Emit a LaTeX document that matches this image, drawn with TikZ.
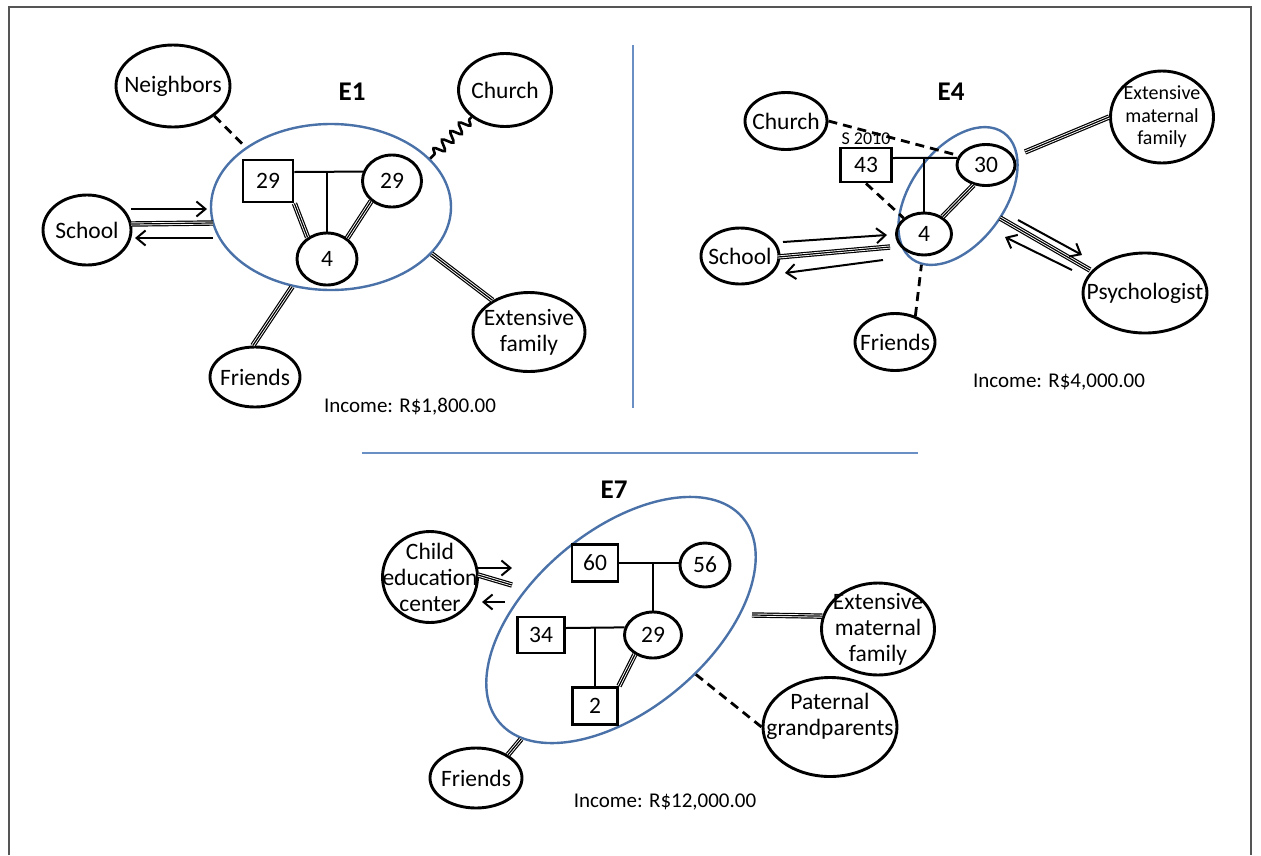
\documentclass[tikz,border=0pt]{standalone}
\usepackage{fontspec}
\setmainfont{Carlito}
\usepackage{xcolor}
\usepackage{tikz}
\usetikzlibrary{arrows.meta,shapes.geometric,decorations.pathmorphing}
\definecolor{ringblue}{HTML}{4A72A8}
\definecolor{divblue}{HTML}{6A8FC4}
\definecolor{framegray}{HTML}{555555}
\newcommand{\ecofont}{\fontsize{23.5}{26}\selectfont}
\newcommand{\ecosmall}{\fontsize{20}{22.5}\selectfont}
\tikzset{
  sysshape/.style={draw,ellipse,line width=2.9pt,inner sep=0pt},
  ecolab/.style={font=\ecofont,align=center,inner sep=0pt},
  sys/.style={sysshape,label={[ecolab]center:#1}},
  syssm/.style={sysshape,label={[ecolab,font=\ecosmall]center:#1}},
  sqr/.style={draw,rectangle,line width=2.9pt,inner sep=0pt,font=\ecofont},
  famring/.style={draw=ringblue,ellipse,line width=2.4pt,inner sep=0pt},
  tie/.style={line width=2pt},
  strongtie/.style={line width=1.2pt,preaction={draw,line width=1.2pt,double,double distance=3pt}},
  weaktie/.style={line width=2.8pt,dash pattern=on 9pt off 6pt},
  stresstie/.style={line width=2.6pt,decorate,decoration={snake,amplitude=5pt,segment length=12pt,pre length=3pt,post length=3pt}},
  flowarr/.style={line width=2pt,-{Straight Barb[length=9pt,width=15pt,line width=2pt]}},
  income/.style={font=\fontsize{21}{24}\selectfont},
  ecotitle/.style={font=\fontsize{27}{30}\selectfont\bfseries}
}

\begin{document}
\begin{tikzpicture}[x=1pt,y=-1pt]
\useasboundingbox (0,0) rectangle (1261,855);
\draw[framegray,line width=1.2pt] (9,855) -- (9,7) -- (1251,7) -- (1251,855);
\draw[divblue,line width=1.2pt] (633,45) -- (633,408);
\draw[divblue,line width=1.2pt] (362,453) -- (918,453);

% E1
\node[famring,minimum width=240pt,minimum height=166pt] (e1ring) at (331,207) {};
\node[ecotitle] (e1t) at (352,92) {E1};
\node[sqr,minimum width=50pt,minimum height=42pt] (e1fa) at (268,181) {29};
\node[sys=29,minimum width=59pt,minimum height=52pt] (e1mo) at (392,181) {};
\node[sys=4,minimum width=60pt,minimum height=52pt] (e1ch) at (327,259) {};
\node[sys=Neighbors,minimum width=114pt,minimum height=82pt] (e1nb) at (173,86) {};
\node[sys=Church,minimum width=93pt,minimum height=73pt] (e1cu) at (505,90) {};
\node[sys=School,minimum width=88pt,minimum height=70pt] (e1sc) at (87,230) {};
\node[sys=Friends,minimum width=90pt,minimum height=60pt] (e1fr) at (255,377) {};
\node[sys={Extensive\\family},minimum width=112pt,minimum height=79pt] (e1ex) at (529,332) {};
\node[income] (e1in) at (410,407) {Income: R\$1,800.00};
\draw[tie] ([yshift=9pt]e1fa.east) -- (e1mo.162);
\draw[tie] (e1ch.north) -- (e1ch.north |- e1mo.162);
\draw[strongtie] (e1fa.south east) -- (e1ch.132);
\draw[strongtie] (e1mo.224) -- (e1ch.46);
\draw[weaktie] (e1nb.-36) -- (e1ring.145);
\draw[stresstie] (e1cu.219) -- (e1ring.26);
\draw[flowarr] ([shift={(44,-21)}]e1sc.center) -- ([shift={(-124,2)}]e1ring.center);
\draw[strongtie] ([shift={(44,-6)}]e1sc.center) -- ([shift={(-118,16)}]e1ring.center);
\draw[flowarr] ([shift={(-118,31)}]e1ring.center) -- ([shift={(48,8)}]e1sc.center);
\draw[strongtie] (e1fr.94) -- (e1ring.244);
\draw[strongtie] (e1ring.-25) -- (e1ex.139);

% E4
\node[famring,minimum width=156pt,minimum height=94pt,rotate=54] (e4ring) at (958,196) {};
\node[ecotitle] (e4t) at (951,92) {E4};
\node[sys=Church,minimum width=82pt,minimum height=57pt] (e4cu) at (786,121) {};
\node[font=\fontsize{18}{20}\selectfont] (e4yr) at (866,139) {S 2010};
\node[sqr,minimum width=51pt,minimum height=34pt] (e4fa) at (866,165) {43};
\node[sys=30,minimum width=58pt,minimum height=41pt] (e4mo) at (986,165) {};
\node[sys=4,minimum width=55pt,minimum height=42pt] (e4ch) at (924,234) {};
\node[sys=School,minimum width=78pt,minimum height=56pt] (e4sc) at (740,256) {};
\node[sys=Friends,minimum width=80pt,minimum height=57pt] (e4fr) at (895,342) {};
\node[sys=Psychologist,minimum width=124pt,minimum height=80pt] (e4ps) at (1145,293) {};
\node[syssm={Extensive\\maternal\\family},minimum width=103pt,minimum height=92pt] (e4ex) at (1162,117) {};
\node[income] (e4in) at (1059,382) {Income: R\$4,000.00};
\draw[weaktie] (e4cu.east) -- (e4mo.161);
\draw[tie] ([yshift=7pt]e4fa.east) -- (e4mo.166);
\draw[tie] (e4ch.north) -- (e4ch.north |- e4mo.166);
\draw[strongtie] (e4mo.238) -- (e4ch.43);
\draw[weaktie] (e4fa.south) -- (e4ch.142);
\draw[strongtie] ([shift={(67,-44)}]e4ring.center) -- (e4ex.west);
\draw[strongtie] ([shift={(42,22)}]e4ring.center) -- ([shift={(-55,-23)}]e4ps.center);
\draw[flowarr] ([shift={(60,24)}]e4ring.center) -- ([shift={(-63,-38)}]e4ps.center);
\draw[flowarr] ([shift={(-73,-23)}]e4ps.center) -- ([shift={(47,41)}]e4ring.center);
\draw[flowarr] ([shift={(43,-14)}]e4sc.center) -- ([shift={(-71,39)}]e4ring.center);
\draw[strongtie] ([shift={(38,1)}]e4sc.center) -- ([shift={(-68,51)}]e4ring.center);
\draw[flowarr] ([shift={(-75,64)}]e4ring.center) -- ([shift={(45,17)}]e4sc.center);
\draw[weaktie] (e4fr.52) -- (e4ring.188);

% E7
\node[famring,minimum width=318pt,minimum height=179pt,rotate=40] (e7ring) at (621,620) {};
\node[ecotitle] (e7t) at (614,490) {E7};
\node[sqr,minimum width=46pt,minimum height=37pt] (e7gf) at (595,563) {60};
\node[sys=56,minimum width=50pt,minimum height=44pt] (e7gm) at (705,565) {};
\node[sys=29,minimum width=57pt,minimum height=46pt] (e7mo) at (653,635) {};
\node[sqr,minimum width=47pt,minimum height=36pt] (e7fa) at (541,635) {34};
\node[sqr,minimum width=45pt,minimum height=37pt] (e7ch) at (595,706) {2};
\node[sys={Child\\education\\center},minimum width=95pt,minimum height=91pt] (e7ce) at (430,577) {};
\node[sys={Extensive\\maternal\\family},minimum width=113pt,minimum height=92pt] (e7ex) at (878,629) {};
\node[sysshape,minimum width=134pt,minimum height=99pt,label={[ecolab,yshift=11pt]center:{Paternal\\grandparents}}] (e7pg) at (830,727) {};
\node[sys=Friends,minimum width=92pt,minimum height=60pt] (e7fr) at (476,778) {};
\node[income] (e7in) at (665,802) {Income: R\$12,000.00};
\draw[tie] (e7gf.east) -- (e7gf.east -| e7gm.west);
\draw[tie] (e7mo.north) -- (e7mo.north |- e7gf.east);
\draw[tie] ([yshift=7pt]e7fa.east) -- (e7mo.165);
\draw[tie] (e7ch.north) -- (e7ch.north |- e7mo.165);
\draw[strongtie] (e7mo.227) -- (e7ch.north east);
\draw[flowarr] ([shift={(48,-9)}]e7ce.center) -- ([shift={(-109,-52)}]e7ring.center);
\draw[strongtie] ([shift={(48,-2)}]e7ce.center) -- ([shift={(-109,-35)}]e7ring.center);
\draw[flowarr] ([shift={(-116,-18)}]e7ring.center) -- ([shift={(52,25)}]e7ce.center);
\draw[strongtie] ([shift={(131,-5)}]e7ring.center) -- (e7ex.167);
\draw[weaktie] (e7ring.-76) -- (e7pg.west);
\draw[strongtie] (e7fr.36) -- (e7ring.190);
\end{tikzpicture}
\end{document}
